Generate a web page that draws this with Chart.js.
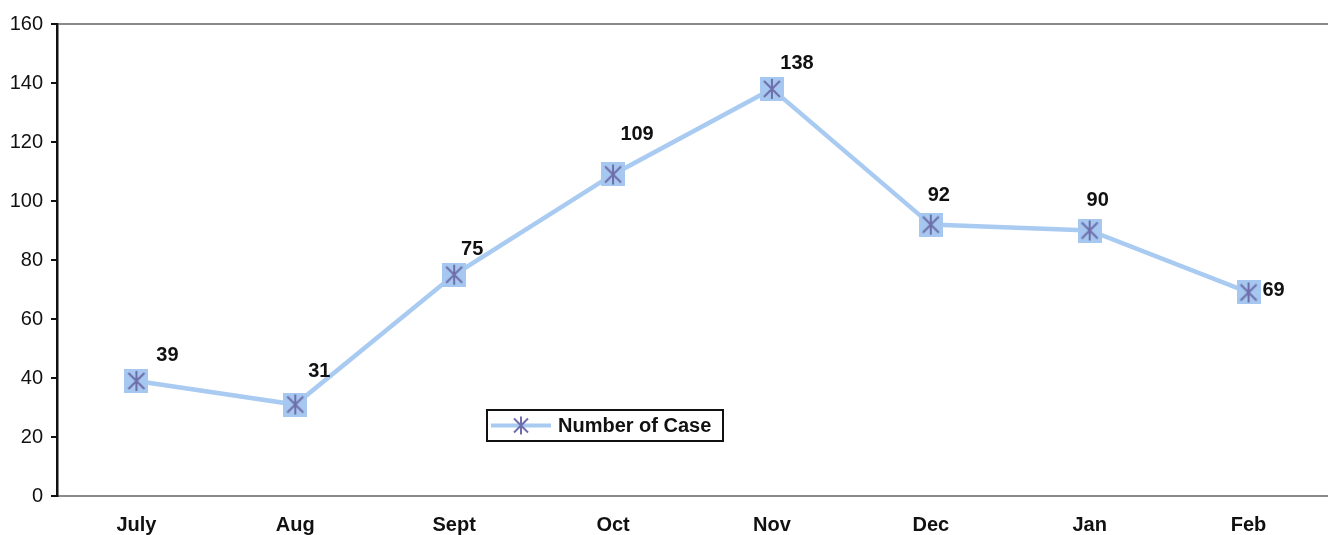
<!DOCTYPE html>
<html>
<head>
<meta charset="utf-8">
<script src="https://cdn.jsdelivr.net/npm/chart.js@4"></script>
<style>
  html, body { margin: 0; padding: 0; background: #fff; overflow: hidden; }
  #wrap { width: 1328px; height: 535px; }
  canvas { display: block; }
</style>
</head>
<body>
<div id="wrap"><canvas id="caseChart" width="1328" height="535"></canvas></div>
<script>
// ===== Number of Case chart =====
const months = ['July', 'Aug', 'Sept', 'Oct', 'Nov', 'Dec', 'Jan', 'Feb'];
const caseCounts = [39, 31, 75, 109, 138, 92, 90, 69];
const yTicks = [0, 20, 40, 60, 80, 100, 120, 140, 160];
const seriesName = 'Number of Case';

// label nudges (px) so the numbers sit like in the original
const labelNudge = [[31, -25], [24, -33], [18, -25], [24, -40], [25, -25], [8, -29], [8, -30], [25, -2]];

const lineColor = '#a9cbf2';
const starColor = '#6e6eab';
const fontFam = '"Liberation Sans", Arial, sans-serif';

function makeMarker() {
  const c = document.createElement('canvas');
  c.width = 24; c.height = 24;
  const g = c.getContext('2d');
  g.fillStyle = '#a6c7ef';
  g.fillRect(0, 0, 24, 24);
  g.strokeStyle = starColor;
  g.lineWidth = 2;
  g.beginPath();
  g.moveTo(12, 2); g.lineTo(12, 22);
  g.moveTo(4, 4); g.lineTo(20, 20);
  g.moveTo(20, 4); g.lineTo(4, 20);
  g.stroke();
  return c;
}
const marker = makeMarker();

const valueLabels = {
  id: 'valueLabels',
  afterDatasetsDraw(chart) {
    const ctx = chart.ctx;
    const meta = chart.getDatasetMeta(0);
    ctx.save();
    ctx.font = 'bold 20px ' + fontFam;
    ctx.fillStyle = '#111';
    ctx.textAlign = 'center';
    ctx.textBaseline = 'middle';
    meta.data.forEach((pt, i) => {
      const n = labelNudge[i];
      ctx.fillText(String(caseCounts[i]), pt.x + n[0], pt.y + n[1]);
    });
    ctx.restore();
  }
};

const boxLegend = {
  id: 'boxLegend',
  afterDraw(chart) {
    const ctx = chart.ctx;
    const x = 487, y = 410, w = 236, h = 31;
    ctx.save();
    ctx.fillStyle = '#fff';
    ctx.fillRect(x, y, w, h);
    ctx.strokeStyle = '#111';
    ctx.lineWidth = 2;
    ctx.strokeRect(x, y, w, h);
    ctx.strokeStyle = lineColor;
    ctx.lineWidth = 4;
    ctx.beginPath();
    ctx.moveTo(x + 4, y + h / 2);
    ctx.lineTo(x + 64, y + h / 2);
    ctx.stroke();
    // star only in the legend
    ctx.strokeStyle = starColor;
    ctx.lineWidth = 2;
    const cx = x + 34, cy = y + h / 2;
    ctx.beginPath();
    ctx.moveTo(cx, cy - 9); ctx.lineTo(cx, cy + 9);
    ctx.moveTo(cx - 7, cy - 7); ctx.lineTo(cx + 7, cy + 7);
    ctx.moveTo(cx + 7, cy - 7); ctx.lineTo(cx - 7, cy + 7);
    ctx.stroke();
    ctx.font = 'bold 20px ' + fontFam;
    ctx.fillStyle = '#111';
    ctx.textBaseline = 'middle';
    ctx.fillText(seriesName, x + 71, y + h / 2 + 1);
    ctx.restore();
  }
};

new Chart(document.getElementById('caseChart'), {
  type: 'line',
  data: {
    labels: months,
    datasets: [{
      label: seriesName,
      data: caseCounts,
      borderColor: lineColor,
      borderWidth: 4.5,
      tension: 0,
      pointStyle: marker,
      pointRadius: 12,
      pointHoverRadius: 12
    }]
  },
  options: {
    responsive: false,
    animation: false,
    layout: { autoPadding: false, padding: { top: 24, right: -2, left: 0, bottom: 0 } },
    plugins: { legend: { display: false }, tooltip: { enabled: false } },
    scales: {
      x: {
        offset: true,
        grid: { display: true, color: 'transparent', drawTicks: false, offset: true },
        border: { display: true, color: '#8a8a8a', width: 2 },
        ticks: { color: '#111', padding: 17, font: { family: fontFam, size: 20, weight: 'bold' } },
        afterFit(s) { s.height = 39; s.paddingLeft = 0; s.paddingRight = 0; }
      },
      y: {
        min: 0, max: 160,
        afterBuildTicks(s) { s.ticks = yTicks.map(v => ({ value: v })); },
        grid: {
          color: ctx => ctx.tick && ctx.tick.value === 160 ? '#8a8a8a' : 'transparent',
          lineWidth: 2,
          tickColor: '#111',
          tickLength: 6
        },
        border: { display: true, color: '#111', width: 2.5 },
        ticks: { color: '#111', padding: 8, font: { family: fontFam, size: 20 } },
        afterFit(s) { s.width = 57; s.paddingTop = 0; s.paddingBottom = 0; }
      }
    }
  },
  plugins: [valueLabels, boxLegend]
});
</script>
</body>
</html>
